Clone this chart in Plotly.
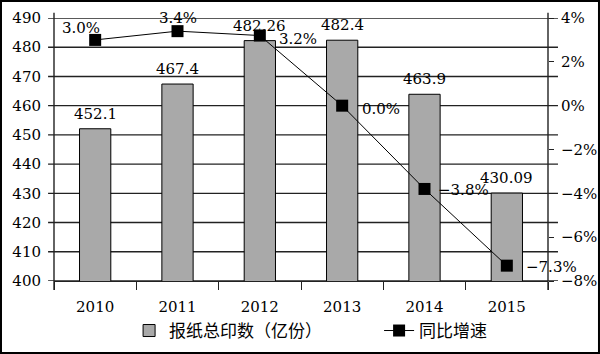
import plotly.graph_objects as go

years = ["2010", "2011", "2012", "2013", "2014", "2015"]
prints = [452.1, 467.4, 482.26, 482.4, 463.9, 430.09]
print_labels = ["452.1", "467.4", "482.26", "482.4", "463.9", "430.09"]
growth = [3.0, 3.4, 3.2, 0.0, -3.8, -7.3]
growth_labels = ["3.0%", "3.4%", "3.2%", "0.0%", "\u22123.8%", "\u22127.3%"]
left_ticks = [400, 410, 420, 430, 440, 450, 460, 470, 480, 490]
right_ticks = [-8, -6, -4, -2, 0, 2, 4]
right_tick_text = ["\u22128%", "\u22126%", "\u22124%", "\u22122%", "0%", "2%", "4%"]

# label offsets (pixels) for the growth labels
growth_shift = [(-14, 12), (0, 13), (38, -3), (39, -3), (39, -1), (45, -1)]

SERIF = "DejaVu Serif, serif"
CJK = "Noto Sans CJK SC, sans-serif"

fig = go.Figure()
fig.add_trace(go.Bar(
    x=years, y=prints, name="报纸总印数（亿份）",
    width=0.38, legendwidth=205,
    marker=dict(color="#a9a9a9", line=dict(color="black", width=1)),
))
fig.add_trace(go.Scatter(
    x=years, y=growth, name="同比增速", yaxis="y2",
    mode="lines+markers", legendwidth=80,
    line=dict(color="black", width=1),
    marker=dict(symbol="square", size=12, color="black"),
    cliponaxis=False,
))

# category axis positions are indices in data order
annotations = []
for i, (v, t) in enumerate(zip(prints, print_labels)):
    annotations.append(dict(x=i, y=v, xref="x", yref="y", text=t, showarrow=False,
                            yanchor="middle", yshift=15,
                            font=dict(family=SERIF, size=15, color="black")))
for i, (v, t, (dx, dy)) in enumerate(zip(growth, growth_labels, growth_shift)):
    annotations.append(dict(x=i, y=v, xref="x", yref="y2", text=t, showarrow=False,
                            xanchor="center", yanchor="middle", xshift=dx, yshift=dy,
                            font=dict(family=SERIF, size=15, color="black")))

shapes = []
for v in left_ticks:
    shapes.append(dict(type="line", xref="paper", yref="y", x0=-0.012, x1=1.0202,
                       y0=v, y1=v, line=dict(color="#222", width=1.4), layer="below"))
for xv in [0, 1]:
    shapes.append(dict(type="line", xref="paper", yref="paper", x0=xv, x1=xv,
                       y0=-0.034, y1=1.02, line=dict(color="#222", width=1.4)))
shapes.append(dict(type="rect", xref="paper", yref="paper",
                   x0=-0.1073, x1=1.1032, y0=-0.2738, y1=1.0646,
                   line=dict(color="black", width=2), fillcolor="rgba(0,0,0,0)"))

fig.update_layout(
    width=600, height=354,
    margin=dict(l=54, r=52, t=18, b=73, autoexpand=False),
    paper_bgcolor="white", plot_bgcolor="white",
    font=dict(family=SERIF, size=15, color="black"),
    showlegend=True,
    legend=dict(orientation="h", x=0.152, xanchor="left", y=-0.19, yanchor="middle",
                font=dict(family=CJK, size=17, color="black"), bgcolor="rgba(0,0,0,0)"),
    xaxis=dict(type="category", range=[-0.5, 5.5], showgrid=False, showline=True,
               linecolor="#222", linewidth=1.4, automargin=False,
               ticks="outside", tickson="boundaries", ticklen=8, tickcolor="#222", tickwidth=1.4,
               ticklabelstandoff=12, tickfont=dict(family=SERIF, size=15)),
    yaxis=dict(range=[400, 490], tickvals=left_ticks, showgrid=False, showline=False,
               zeroline=False, ticks="outside", ticklen=6, tickcolor="rgba(0,0,0,0)",
               automargin=False, ticklabelstandoff=3, tickfont=dict(family=SERIF, size=15)),
    yaxis2=dict(range=[-8, 4], tickvals=right_ticks, ticktext=right_tick_text,
                overlaying="y", side="right", automargin=False,
                showgrid=False, zeroline=False, showline=False, ticks="outside", ticklen=5,
                tickcolor="#222", tickwidth=1.4, ticklabelstandoff=4,
                tickfont=dict(family=SERIF, size=15)),
    annotations=annotations,
    shapes=shapes,
)

fig.write_html("out.html")
